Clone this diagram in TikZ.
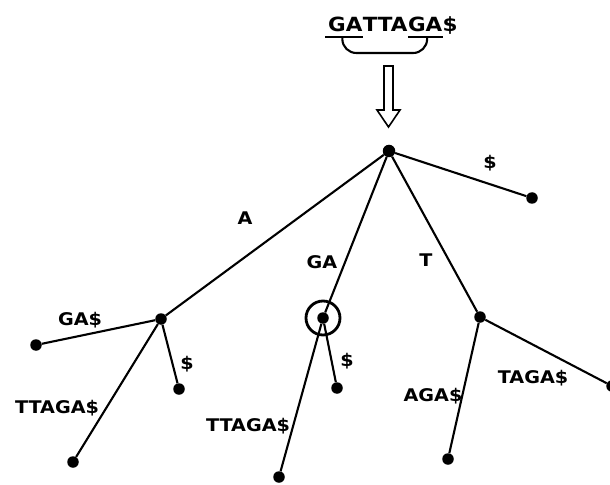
\documentclass[tikz,border=0pt]{standalone}
\usepackage{fontspec}
\setmainfont{DejaVu Sans}[FakeStretch=1.1]

\begin{document}
\begin{tikzpicture}[x=1bp,y=-1bp,
  vertex/.style={circle,fill,inner sep=0,minimum size=11.5bp},
  edge/.style={line width=2.1bp},
  lbl/.style={font=\fontsize{17.5}{20}\selectfont\bfseries,inner sep=0,text height=12.7bp,text depth=0pt},
  word/.style={font=\fontsize{19.6}{22}\selectfont\bfseries,inner sep=0,anchor=base west}]
\useasboundingbox (0,0) rectangle (610,485);
% the string and its repeat
\node [word] (ga1) at (328,32) {GA};
\node [word] (tta) at (ga1.base east) {TTA};
\node [word] (ga2) at (tta.base east) {GA};
\node [word] (dol) at (ga2.base east) {\$};
\draw [edge] ([xshift=-3bp,yshift=-5bp]ga1.base west) -- ([yshift=-5bp]ga1.base east);
\draw [edge] ([yshift=-5bp]ga2.base west) -- ([xshift=1bp,yshift=-5bp]ga2.base east);
\draw [edge,rounded corners=14bp] ([xshift=-3bp,yshift=-5bp]ga1.base) -- ++(0,16) -| ([xshift=2bp,yshift=-5bp]ga2.base);
\draw [line width=1.6bp] (384,66) -- (393,66) -- (393,110) -- (400,110) -- (388.5,127) -- (377,110) -- (384,110) -- cycle;
% tree
\node [vertex,minimum size=12.5bp] (root) at (389,151) {};
\node [vertex] (end) at (532,198) {};
\node [vertex] (a) at (161,319) {};
\node [vertex] (ga) at (323,318) {};
\node [vertex] (t) at (480,317) {};
\node [vertex] (a1) at (36,345) {};
\node [vertex] (a2) at (179,389) {};
\node [vertex] (a3) at (73,462) {};
\node [vertex] (ga1l) at (337,388) {};
\node [vertex] (ga2l) at (279,477) {};
\node [vertex] (t1) at (448,459) {};
\node [vertex] (t2) at (612,386) {};
\draw [line width=2.8bp] (ga) circle [radius=17];
\draw [edge] (root) -- (end);
\draw [edge] (root) -- (a);
\draw [edge] (root) -- (ga);
\draw [edge] (root) -- (t);
\draw [edge] (a) -- (a1);
\draw [edge] (a) -- (a2);
\draw [edge] (a) -- (a3);
\draw [edge] (ga) -- (ga1l);
\draw [edge] (ga) -- (ga2l);
\draw [edge] (t) -- (t1);
\draw [edge] (t) -- (t2);
% edge labels
\node [lbl] (l-end) at (490,162) {\$};
\node [lbl] (l-a) at (245,218) {A};
\node [lbl] (l-ga) at (322,262) {GA};
\node [lbl] (l-t) at (426,260) {T};
\node [lbl] (l-a1) at (80,319) {GA\$};
\node [lbl] (l-a2) at (187,363) {\$};
\node [lbl] (l-a3) at (57,407) {TTAGA\$};
\node [lbl] (l-ga1) at (347,360) {\$};
\node [lbl] (l-ga2) at (248,425) {TTAGA\$};
\node [lbl] (l-t1) at (433,395) {AGA\$};
\node [lbl] (l-t2) at (533,377) {TAGA\$};
\end{tikzpicture}
\end{document}
